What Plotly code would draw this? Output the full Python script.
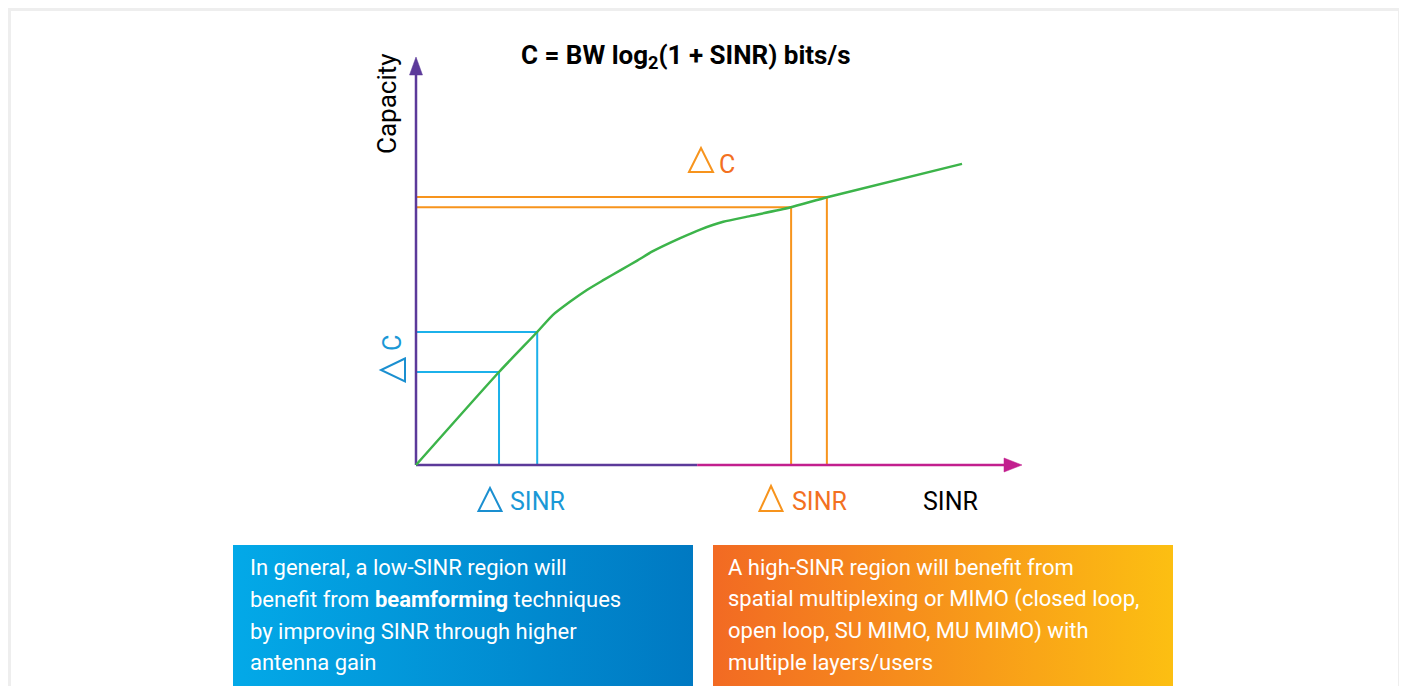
import plotly.graph_objects as go

# ---------------- data (arbitrary SINR / capacity units) ----------------
curve_sinr = [0, 1.37, 2.0, 2.26, 2.54, 2.82, 3.09, 3.37, 3.65, 3.91, 4.36, 4.69, 5.07,
              5.51, 6.17, 6.80, 9.01]
curve_cap = [0, 2.28, 3.26, 3.68, 4.00, 4.29, 4.53, 4.77, 5.01, 5.24, 5.56, 5.77, 5.96,
             6.10, 6.31, 6.57, 7.38]

low_sinr = [1.37, 2.0]      # blue delta guides
low_cap = [2.28, 3.26]
high_sinr = [6.19, 6.78]    # orange delta guides
high_cap = [6.32, 6.57]

axis_max_sinr = 10
axis_max_cap = 10
axis_color_split = 4.64

title_text = "<b>C = BW log<sub>2</sub>(1 + SINR) bits/s</b>"
y_label = "Capacity"
x_label = "SINR"
low_box_lines = ["In general, a low-SINR region will",
                 "benefit from <b>beamforming</b> techniques",
                 "by improving SINR through higher",
                 "antenna gain"]
high_box_lines = ["A high-SINR region will benefit from",
                  "spatial multiplexing or MIMO (closed loop,",
                  "open loop, SU MIMO, MU MIMO) with",
                  "multiple layers/users"]

# ---------------- geometry / style ----------------
OFF = 8                        # page body margin
W, H = 1407 - OFF, 686 - OFF   # figure size
X0PX, Y0PX = 416, 465          # origin pixel (page coords)
PX_X = 60.6                    # px per SINR unit
PX_Y = 40.8                    # px per capacity unit

PURPLE = "#5c3a9a"
MAGENTA = "#c21f8e"
GREEN = "#3cb44a"
BLUE = "#1cb1ea"
BLUE_TXT = "#1a98d6"
ORANGE = "#f7941d"
ORANGE_TXT = "#f37021"
FONT = "Roboto"

fig = go.Figure()

# guides
for s_list, c_list, col in [(low_sinr, low_cap, BLUE), (high_sinr, high_cap, ORANGE)]:
    xs, ys = [], []
    for s, c in zip(s_list, c_list):
        xs += [0, s, s, None]
        ys += [c, c, 0, None]
    fig.add_trace(go.Scatter(x=xs, y=ys, mode="lines", line=dict(color=col, width=2),
                             hoverinfo="skip", showlegend=False))

# axes lines
head_len_x = 18 / PX_X
head_len_y = 18 / PX_Y
fig.add_trace(go.Scatter(x=[0, 0], y=[0, axis_max_cap - head_len_y], mode="lines",
                         line=dict(color=PURPLE, width=2.5), showlegend=False, hoverinfo="skip"))
fig.add_trace(go.Scatter(x=[0, axis_color_split], y=[0, 0], mode="lines",
                         line=dict(color=PURPLE, width=2.5), showlegend=False, hoverinfo="skip"))
fig.add_trace(go.Scatter(x=[axis_color_split, axis_max_sinr - head_len_x], y=[0, 0], mode="lines",
                         line=dict(color=MAGENTA, width=2.5), showlegend=False, hoverinfo="skip"))
# arrow heads
hw_x = 6.5 / PX_X
hw_y = 7 / PX_Y
fig.add_trace(go.Scatter(x=[-hw_x, hw_x, 0, -hw_x],
                         y=[axis_max_cap - head_len_y] * 2 + [axis_max_cap, axis_max_cap - head_len_y],
                         mode="lines", fill="toself", fillcolor=PURPLE, line=dict(color=PURPLE, width=0.5),
                         showlegend=False, hoverinfo="skip"))
fig.add_trace(go.Scatter(x=[axis_max_sinr - head_len_x] * 2 + [axis_max_sinr, axis_max_sinr - head_len_x],
                         y=[-hw_y, hw_y, 0, -hw_y],
                         mode="lines", fill="toself", fillcolor=MAGENTA, line=dict(color=MAGENTA, width=0.5),
                         showlegend=False, hoverinfo="skip"))

# capacity curve
fig.add_trace(go.Scatter(x=curve_sinr, y=curve_cap, mode="lines",
                         line=dict(color=GREEN, width=2.5, shape="spline", smoothing=0.6),
                         showlegend=False, hoverinfo="skip"))

# ---------------- overlay (page-pixel) layer: boxes ----------------
def box(x0, x1, y0, y1, c0, c1):
    fig.add_trace(go.Scatter(x=[x0, x1, x1, x0, x0], y=[y0, y0, y1, y1, y0], xaxis="x2", yaxis="y2",
                             mode="lines", line=dict(width=0), fill="toself",
                             fillgradient=dict(type="horizontal", colorscale=[[0, c0], [1, c1]]),
                             showlegend=False, hoverinfo="skip"))

box(233, 693, 545, 700, "#03a9e8", "#0079c2")
box(713, 1173, 545, 700, "#f26a23", "#fcbf12")

ann = []
def text(x, y, t, size, color, angle=0, xanchor="center", yanchor="middle", family=FONT):
    ann.append(dict(x=x, y=y, xref="x2", yref="y2", text=t, showarrow=False, textangle=angle,
                    xanchor=xanchor, yanchor=yanchor, font=dict(family=family, size=size, color=color)))

line_y = [567, 599, 631, 662]
for yy, t in zip(line_y, low_box_lines):
    text(248, yy, t, 22, "white", xanchor="left")
for yy, t in zip(line_y, high_box_lines):
    text(726, yy, t, 22, "white", xanchor="left")

text(685, 56, title_text, 26, "black")
text(387, 104, y_label, 26, "black", angle=-90)
text(950, 501, x_label, 25, "black")
text(727, 164, "C", 25, ORANGE_TXT)
text(537, 501, "SINR", 25, BLUE_TXT)
text(819, 501, "SINR", 25, ORANGE_TXT)
text(392, 343, "C", 25, BLUE_TXT, angle=-90)

# delta triangles (label glyphs)
def tri_up(cx, top, bottom, half_w, color):
    return dict(type="path", xref="x2", yref="y2",
                path=f"M {cx-half_w},{bottom} L {cx},{top} L {cx+half_w},{bottom} Z",
                line=dict(color=color, width=2), fillcolor="rgba(0,0,0,0)")

def tri_left(left, right, cy, half_h, color):
    return dict(type="path", xref="x2", yref="y2",
                path=f"M {right},{cy-half_h} L {left},{cy} L {right},{cy+half_h} Z",
                line=dict(color=color, width=2), fillcolor="rgba(0,0,0,0)")

shapes = [
    dict(type="rect", xref="x2", yref="y2", x0=9.5, x1=1399.5, y0=9.5, y1=720,
         line=dict(color="#eeeeee", width=3), fillcolor="rgba(0,0,0,0)", layer="below"),
    tri_up(701, 148, 172, 12, ORANGE),
    tri_up(490, 488, 511, 11.5, "#1a8fd0"),
    tri_up(771, 486, 511, 11.5, ORANGE),
    tri_left(381, 405, 370, 11.5, "#1a8fd0"),
]

fig.update_layout(
    width=W, height=H, margin=dict(l=0, r=0, t=0, b=0),
    paper_bgcolor="white", plot_bgcolor="white",
    xaxis=dict(range=[-(X0PX - OFF) / PX_X, (OFF + W - X0PX) / PX_X], visible=False, fixedrange=True),
    yaxis=dict(range=[(Y0PX - OFF - H) / PX_Y, (Y0PX - OFF) / PX_Y], visible=False, fixedrange=True),
    xaxis2=dict(range=[OFF, OFF + W], overlaying="x", visible=False, fixedrange=True),
    yaxis2=dict(range=[OFF + H, OFF], overlaying="y", visible=False, fixedrange=True),
    annotations=ann, shapes=shapes, showlegend=False,
)

fig.write_html("out.html")
